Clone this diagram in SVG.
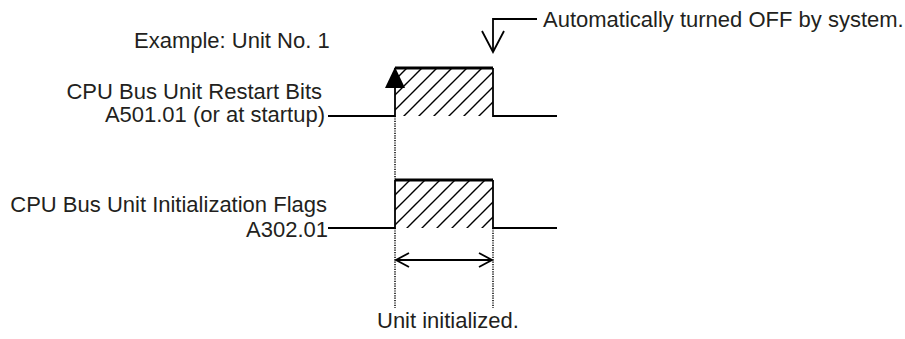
<svg xmlns="http://www.w3.org/2000/svg" width="905" height="339" viewBox="0 0 905 339">
<style>
text{font-family:"Liberation Sans",Arial,Helvetica,sans-serif;font-size:22px;fill:#231f20}
.w{fill:none;stroke:#000;stroke-width:1.8}
.hi{fill:none;stroke:#000;stroke-width:3.2}
.dot{fill:none;stroke:#000;stroke-width:1.5;stroke-dasharray:1.2 1.2}
.hatch{stroke:#000;stroke-width:1.4}
.ah{fill:none;stroke:#000;stroke-width:1.8}
</style>
<defs>
<pattern id="h1" patternUnits="userSpaceOnUse" x="10" y="0" width="15" height="15">
<path class="hatch" d="M0,15 L15,0 M-3,3 L3,-3 M12,18 L18,12"/>
</pattern>
<pattern id="h2" patternUnits="userSpaceOnUse" x="5" y="0" width="15" height="15">
<path class="hatch" d="M0,15 L15,0 M-3,3 L3,-3 M12,18 L18,12"/>
</pattern>
</defs>
<g id="labels">
<text x="134" y="48">Example: Unit No. 1</text>
<text x="543" y="27">Automatically turned OFF by system.</text>
<text x="322" y="99" text-anchor="end">CPU Bus Unit Restart Bits</text>
<text x="325" y="122" text-anchor="end">A501.01 (or at startup)</text>
<text x="327" y="212" text-anchor="end">CPU Bus Unit Initialization Flags</text>
<text x="328" y="237" text-anchor="end">A302.01</text>
<text x="377" y="328">Unit initialized.</text>
</g>
<g id="restart-signal">
<rect x="395" y="68" width="98" height="48" fill="url(#h1)"/>
<path class="w" d="M328,116 H395 V68 M493,68 V116 H557"/>
<path class="hi" d="M395,68 H493"/>
<polygon points="395,67 385,88 405,88" fill="#000"/>
</g>
<g id="init-flag">
<rect x="395" y="180" width="98" height="48" fill="url(#h2)"/>
<path class="w" d="M328,228 H395 V180 M493,180 V228 H557"/>
<path class="hi" d="M395,180 H493"/>
</g>
<g id="connectors">
<path class="w" d="M537,19 H493 V52"/>
<path class="ah" d="M482,31 L493,52 L504,31"/>
<path class="dot" d="M395,116 V180 M395,228 V308 M493,228 V308"/>
<path class="w" d="M396,260 H492"/>
<path class="ah" d="M409,253 L396,260 L409,267 M479,253 L492,260 L479,267"/>
</g>
</svg>
